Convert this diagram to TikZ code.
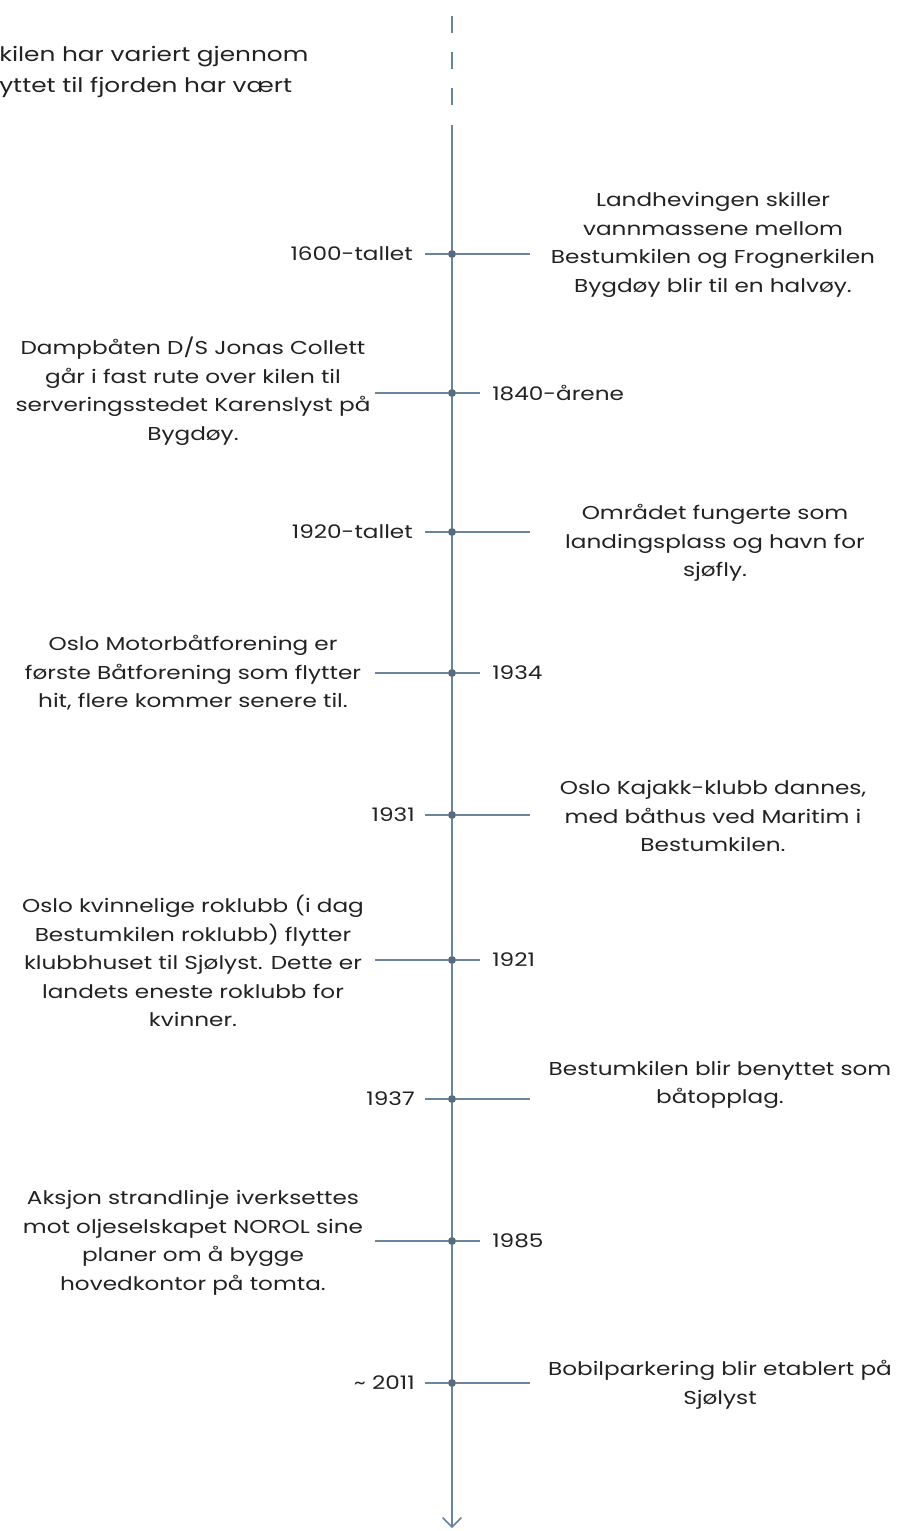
\documentclass[tikz,border=0pt]{standalone}
\usepackage{fontspec}
\setmainfont{Poppins}[FakeStretch=1.24]
\usetikzlibrary{arrows.meta,calc}

\definecolor{axisblue}{RGB}{104,132,160}
\definecolor{dotgray}{RGB}{90,106,124}
\definecolor{inkgray}{RGB}{34,34,34}

\begin{document}
\begin{tikzpicture}[x=0.75pt,y=-0.75pt,
  line/.style={axisblue, line width=1.2pt},
  event/.style={font=\fontsize{14}{21.4}\selectfont, text=inkgray, align=center, inner sep=0pt},
  year/.style={font=\fontsize{14}{21.4}\selectfont, text=inkgray, inner sep=0pt},
  dot/.style={circle, fill=dotgray, inner sep=0pt, minimum size=6pt}]

	\useasboundingbox (0,0) rectangle (897,1531);
	\clip (0,0) rectangle (897,1531);

	% intro text, cut at the left edge
	\node (intro)[event, font=\fontsize{15}{23.5}\selectfont, align=left, anchor=north west] at (-1,46) {kilen har variert gjennom\\yttet til fjorden har vært};

	% axis
	\coordinate (dtop) at (452,16);
	\coordinate (dend) at (452,105);
	\coordinate (top) at (452,125);
	\coordinate (bottom) at (452,1528);

	% points on the axis
	\node (p1)[dot] at (452,254) {};
	\node (p2)[dot] at (452,393) {};
	\node (p3)[dot] at (452,532) {};
	\node (p4)[dot] at (452,673) {};
	\node (p5)[dot] at (452,815) {};
	\node (p6)[dot] at (452,960) {};
	\node (p7)[dot] at (452,1099) {};
	\node (p8)[dot] at (452,1241) {};
	\node (p9)[dot] at (452,1383) {};

	% years
	\node (y1)[year, anchor=east] at (413,254) {1600-tallet};
	\node (y2)[year, anchor=west] at (492,393) {1840-årene};
	\node (y3)[year, anchor=east] at (413,532) {1920-tallet};
	\node (y4)[year, anchor=west] at (492,673) {1934};
	\node (y5)[year, anchor=east] at (415,815) {1931};
	\node (y6)[year, anchor=west] at (492,960) {1921};
	\node (y7)[year, anchor=east] at (415,1099) {1937};
	\node (y8)[year, anchor=west] at (492,1241) {1985};
	\node (y9)[year, anchor=east] at (415,1383) {\textasciitilde{} 2011};

	% events
	\node (e1)[event] at (713,245) {Landhevingen skiller\\vannmassene mellom\\Bestumkilen og Frognerkilen\\Bygdøy blir til en halvøy.};
	\node (e2)[event] at (193,391) {Dampbåten D/S Jonas Collett\\går i fast rute over kilen til\\serveringsstedet Karenslyst på\\Bygdøy.};
	\node (e3)[event] at (715,543) {Området fungerte som\\landingsplass og havn for\\sjøfly.};
	\node (e4)[event] at (193,673) {Oslo Motorbåtforening er\\første Båtforening som flytter\\hit, flere kommer senere til.};
	\node (e5)[event] at (713,816) {Oslo Kajakk-klubb dannes,\\med båthus ved Maritim i\\Bestumkilen.};
	\node (e6)[event] at (193,961) {Oslo kvinnelige roklubb (i dag\\Bestumkilen roklubb) flytter\\klubbhuset til Sjølyst. Dette er\\landets eneste roklubb for\\kvinner.};
	\node (e7)[event] at (720,1085) {Bestumkilen blir benyttet som\\båtopplag.};
	\node (e8)[event] at (193,1243) {Aksjon strandlinje iverksettes\\mot oljeselskapet NOROL sine\\planer om å bygge\\hovedkontor på tomta.};
	\node (e9)[event] at (720,1385) {Bobilparkering blir etablert på\\Sjølyst};

	% ticks
	\draw [line] ($(p1)+(-27,0)$) to ($(p1)+(78,0)$);
	\draw [line] ($(p2)+(-77,0)$) to ($(p2)+(28,0)$);
	\draw [line] ($(p3)+(-27,0)$) to ($(p3)+(78,0)$);
	\draw [line] ($(p4)+(-77,0)$) to ($(p4)+(28,0)$);
	\draw [line] ($(p5)+(-27,0)$) to ($(p5)+(78,0)$);
	\draw [line] ($(p6)+(-77,0)$) to ($(p6)+(28,0)$);
	\draw [line] ($(p7)+(-27,0)$) to ($(p7)+(78,0)$);
	\draw [line] ($(p8)+(-77,0)$) to ($(p8)+(28,0)$);
	\draw [line] ($(p9)+(-27,0)$) to ($(p9)+(78,0)$);

	\draw [line, dash pattern=on 12.75pt off 14.25pt] (dtop) to (dend);
	\draw [line, -{Straight Barb[length=7pt, width=14pt, line width=1.2pt]}] (top) to (bottom);

	% redraw points over the lines
	\foreach \p in {p1,p2,p3,p4,p5,p6,p7,p8,p9}
		\fill [dotgray] (\p) circle (3.5);

\end{tikzpicture}
\end{document}
